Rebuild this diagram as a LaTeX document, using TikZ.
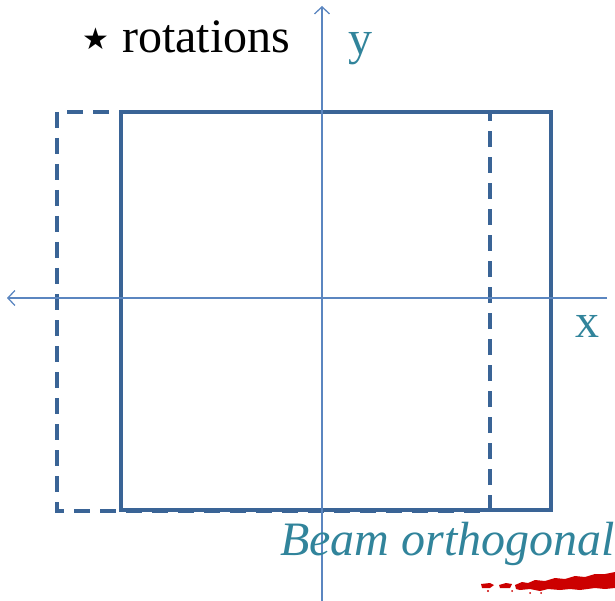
\documentclass[tikz,border=0pt]{standalone}
\usepackage{fontspec}
\setmainfont{Liberation Serif}
\newfontfamily\symfont{DejaVu Sans}
\usetikzlibrary{arrows.meta}
\definecolor{boxblue}{HTML}{3A6496}
\definecolor{axisblue}{HTML}{5B86C0}
\definecolor{teal}{HTML}{31849B}
\definecolor{scribble}{HTML}{CC0000}
\tikzset{
  boxline/.style={draw=boxblue, line width=4.8pt},
  dashbox/.style={boxline, dash pattern=on 16pt off 10pt},
  axisline/.style={draw=axisblue, line width=1.3pt, -{Straight Barb[length=7pt,width=15pt,line width=1.3pt]}},
  bigtext/.style={inner sep=0pt, font=\fontsize{48}{57}\selectfont},
}
\begin{document}
\begin{tikzpicture}[x=1pt,y=-1pt]
\useasboundingbox (0,0) rectangle (615,601);
% dashed (shifted) rectangle
\coordinate (d1) at (57,112);
\coordinate (d2) at (490,511);
\draw[dashbox] (d1) rectangle (d2);
% solid rectangle
\coordinate (s1) at (121,112);
\coordinate (s2) at (551,510);
\draw[boxline] (s1) rectangle (s2);
% axes
\coordinate (xr) at (607,298);
\coordinate (xl) at (7,298);
\coordinate (yb) at (322,601);
\coordinate (yt) at (322,6);
\draw[axisline] (xr) -- (xl);
\draw[axisline] (yb) -- (yt);
% labels
\node[inner sep=0pt, anchor=center, font=\symfont\fontsize{30}{34}\selectfont] (star) at (96,39) {★};
\node[bigtext, anchor=base west] (rot) at (122,53) {rotations};
\node[bigtext, anchor=base west, text=teal] (ylab) at (348,55) {y};
\node[bigtext, anchor=base west, text=teal] (xlab) at (575,337) {x};
\node[bigtext, anchor=base west, text=teal, font=\fontsize{48}{57}\selectfont\itshape] (beam) at (280,555) {Beam orthogonal};
% red scribble
\fill[scribble] (481,584) -- (490,583) -- (494,585) -- (490,588) -- (482,588) -- cycle;
\fill[scribble] (499,585) -- (506,583) -- (512,584) -- (510,588) -- (500,588) -- cycle;
\fill[scribble] (515,585) -- (522,582) -- (528,583) -- (535,580) -- (545,581) -- (555,578) -- (565,579) -- (575,576) -- (585,577) -- (595,574) -- (605,574) -- (615,572)
  -- (615,588) -- (605,589) -- (595,588) -- (580,590) -- (570,589) -- (560,590) -- (548,589) -- (540,591) -- (530,589) -- (520,590) -- (516,589) -- cycle;
\fill[scribble] (488,591) circle (1.2pt) (530,593) circle (1pt) (512,591) circle (1pt) (541,593) circle (1pt);
\end{tikzpicture}
\end{document}
